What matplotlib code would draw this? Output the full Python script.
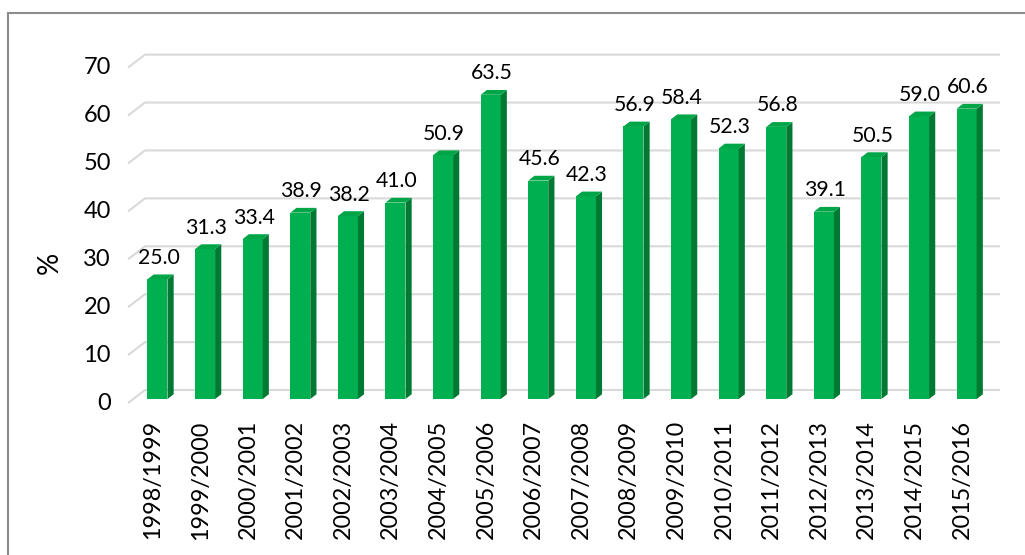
import matplotlib
matplotlib.use("Agg")
import matplotlib.pyplot as plt
from matplotlib.patches import Polygon, Rectangle

plt.rcParams['font.family'] = ['Lato', 'DejaVu Sans']

seasons = ["1998/1999", "1999/2000", "2000/2001", "2001/2002", "2002/2003",
           "2003/2004", "2004/2005", "2005/2006", "2006/2007", "2007/2008",
           "2008/2009", "2009/2010", "2010/2011", "2011/2012", "2012/2013",
           "2013/2014", "2014/2015", "2015/2016"]
values = [25.0, 31.3, 33.4, 38.9, 38.2, 41.0, 50.9, 63.5, 45.6, 42.3,
          56.9, 58.4, 52.3, 56.8, 39.1, 50.5, 59.0, 60.6]
yticks = [0, 10, 20, 30, 40, 50, 60, 70]

front = '#00b050'
side = '#007a33'
top = '#00a548'
grid_col = '#d9d9d9'

W, H = 1025, 555
fig = plt.figure(figsize=(W / 100, H / 100), dpi=100)
ax = fig.add_axes([0.1165, 0.2551, 0.8823, 0.6734])
ax.set_xlim(-0.8, 18.2)
ax.set_ylim(-3, 75)
ax.axis('off')

# fake 3d depth
bw = 0.42      # front face width
dx = 0.13      # side depth (x units)
dy = 1.0       # top depth (y units)

# back wall gridlines with the small diagonal on the left
gx_front, gx_back, gx_end = -0.62, -0.263, 17.70
g_lo, g_hi = -0.84, 1.88
for v in yticks:
    ax.plot([gx_front, gx_back, gx_end], [v + g_lo, v + g_hi, v + g_hi],
            color=grid_col, lw=1.5, solid_capstyle='butt', zorder=1)
    ax.text(-0.98, v + g_lo, str(v), ha='right', va='center', fontsize=17)

xs = list(range(len(values)))
ax.bar(xs, values, width=bw, color=front, zorder=3)
for x, v in zip(xs, values):
    r = x + bw / 2
    l = x - bw / 2
    ax.add_patch(Polygon([(r, 0), (r + dx, dy), (r + dx, v + dy), (r, v)],
                         closed=True, facecolor=side, edgecolor='none', zorder=3))
    ax.add_patch(Polygon([(l, v), (r, v), (r + dx, v + dy), (l + dx, v + dy)],
                         closed=True, facecolor=top, edgecolor='none', zorder=3))
    ax.text(x + 0.02, v + 2.4, f"{v:.1f}", ha='center', va='bottom', fontsize=15.3)
    ax.text(x - 0.1, -4.4, seasons[x], rotation=90, ha='center', va='top',
            fontsize=16.8, clip_on=False)

fig.text(50 / W, 1 - 263 / H, '%', rotation=90, ha='center', va='center', fontsize=20)

# chart border (only left and top edges visible in the crop)
fig.add_artist(Rectangle((8 / W, -0.1), 1.2, (H - 13) / H + 0.1,
                         transform=fig.transFigure, fill=False,
                         edgecolor='#8c8c8c', lw=1.5))

fig.savefig('out.png', dpi=100)
